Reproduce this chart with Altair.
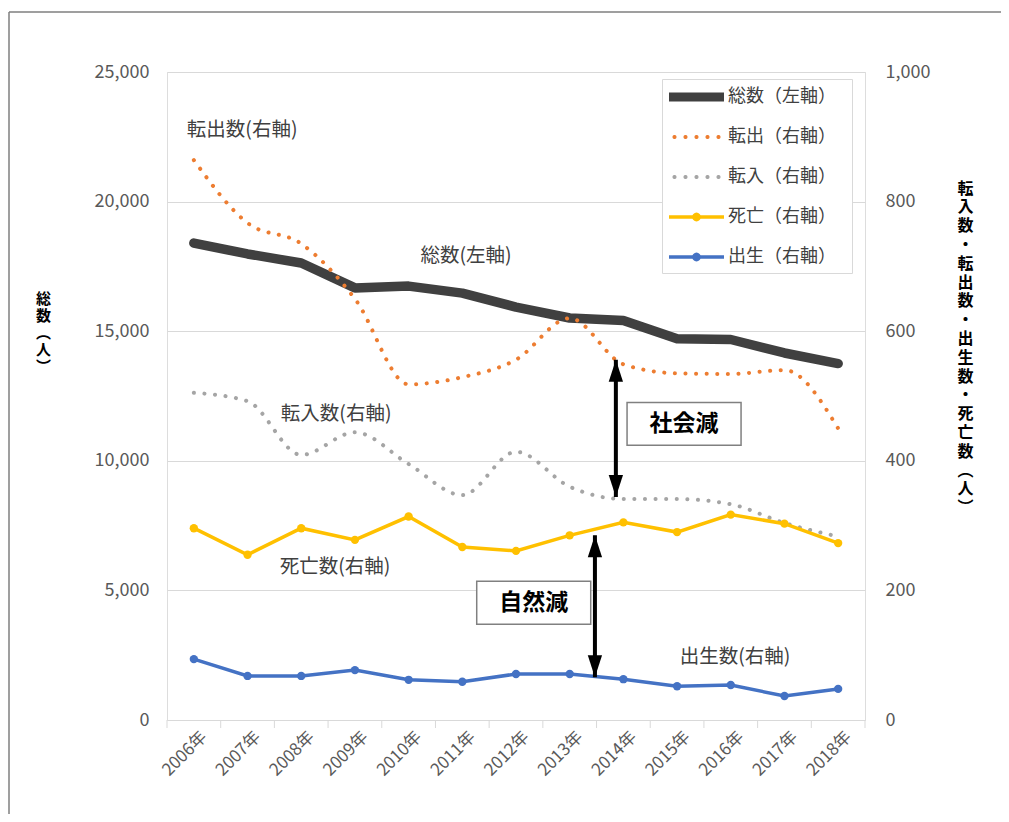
import math
import altair as alt
import pandas as pd

# ---------------- data ----------------
years = list(range(2006, 2019))
total = [18400, 17980, 17630, 16670, 16740, 16470, 15930, 15510, 15410, 14710, 14680, 14160, 13750]
outflow = [864, 767, 735, 650, 518, 529, 556, 620, 549, 535, 534, 540, 450]
inflow = [505, 492, 409, 444, 395, 347, 414, 360, 341, 341, 333, 304, 283]
deaths = [296, 255, 296, 278, 314, 267, 261, 285, 305, 290, 317, 303, 273]
births = [94, 68, 68, 77, 62, 59, 71, 71, 63, 52, 54, 37, 48]

series_names = ["総数（左軸）", "転出（右軸）", "転入（右軸）", "死亡（右軸）", "出生（右軸）"]
series_colors = ["#404040", "#ED7D31", "#A5A5A5", "#FFC000", "#4472C4"]

label_texts = ["転出数(右軸)", "総数(左軸)", "転入数(右軸)", "死亡数(右軸)", "出生数(右軸)"]
label_years = [2006.9, 2011.07, 2008.65, 2008.63, 2016.08]
label_values = [910, 716, 472, 236, 97]

box_texts = ["社会減", "自然減"]
box_years = [2015.13, 2012.33]
box_values = [457, 181]

arrow_years = [2013.86, 2013.47]
arrow_top = [556, 285]
arrow_bottom = [344, 66]

left_ticks = [0, 5000, 10000, 15000, 20000, 25000]
right_ticks = [0, 200, 400, 600, 800, 1000]

FONT = "Noto Sans CJK JP"
W, H = 698, 648

# ---------------- helpers (styles) ----------------
def rect(x0, x1, y0, y1):
    return f"M{x0},{y0}H{x1}V{y1}H{x0}Z"

def circ(cx, cy, r, n=16):
    pts = []
    for i in range(n):
        t = 2 * math.pi * i / n
        pts.append(f"{cx + r * math.cos(t):.3f},{cy + r * math.sin(t):.3f}")
    return "M" + "L".join(pts) + "Z"

dots = "".join(circ(cx, 0, 0.19, 10) for cx in [-0.5, 0.5, 1.5, 2.5, 3.5])
legend_paths = [
    rect(-1, 4, -0.4, 0.4),
    dots,
    dots,
    rect(-1, 4, -0.16, 0.16) + circ(1.5, 0, 0.4),
    rect(-1, 4, -0.16, 0.16) + circ(1.5, 0, 0.4),
]

UP_HEAD = "M0,-1L0.65,1L-0.65,1Z"
DOWN_HEAD = "M0,1L0.65,-1L-0.65,-1Z"
BOX = "M-1,-0.377H1V0.377H-1Z"

df = pd.DataFrame({"year": years, "total": total, "outflow": outflow,
                   "inflow": inflow, "deaths": deaths, "births": births})
labels_df = pd.DataFrame({"year": label_years, "v": label_values, "t": label_texts})
boxes_df = pd.DataFrame({"year": box_years, "v": box_values, "t": box_texts})
arrows_df = pd.DataFrame({"year": arrow_years, "top": arrow_top, "bottom": arrow_bottom})
bounds_df = pd.DataFrame({"b": [y - 0.5 for y in years] + [years[-1] + 0.5]})
legend_df = pd.DataFrame({"series": series_names})
frame_df = pd.DataFrame({"k": [0]})

x_axis = alt.Axis(values=years, labelExpr="datum.value + '年'", labelAngle=-45,
                  labelAlign="right", labelBaseline="middle", labelPadding=14,
                  labelOffset=10, labelFontSize=17, labelColor="#595959", labelFont=FONT,
                  labelOverlap=False, ticks=False, domain=False, grid=False, title=None)
x_scale = alt.Scale(domain=[2005.5, 2018.5], nice=False, zero=False)

def X(field):
    return alt.X(f"{field}:Q", scale=x_scale, axis=x_axis)

right_scale = alt.Scale(domain=[0, 1000], nice=False)
right_axis = alt.Axis(orient="right", values=right_ticks, format=",d", grid=False,
                      ticks=False, domain=False, labelPadding=20, labelFontSize=18,
                      labelColor="#595959", labelFont=FONT,
                      title=list("転入数・転出数・出生数・死亡数︵人︶"), titleAngle=0,
                      titleX=100, titleY=108, titleAlign="center", titleBaseline="top",
                      titleLineHeight=18.8, titleFontSize=16, titleFontWeight="bold",
                      titleColor="#000000", titleFont=FONT)

def YR(field):
    return alt.Y(f"{field}:Q", scale=right_scale, axis=right_axis)

left_axis = alt.Axis(orient="left", values=left_ticks, format=",d", grid=True,
                     gridColor="#d9d9d9", ticks=False, domain=False, labelPadding=18,
                     labelFontSize=18, labelColor="#595959", labelFont=FONT,
                     title=list("総数︵人︶"), titleAngle=0, titleX=-124, titleY=219,
                     titleAlign="center", titleBaseline="top", titleLineHeight=17,
                     titleFontSize=15, titleFontWeight="bold", titleColor="#000000",
                     titleFont=FONT)

# ---------------- left layer ----------------
total_line = alt.Chart(df).mark_line(color="#404040", strokeWidth=9.5, strokeCap="round",
                                      strokeJoin="round").encode(
    x=X("year"),
    y=alt.Y("total:Q", scale=alt.Scale(domain=[0, 25000], nice=False), axis=left_axis),
)

# ---------------- right layers ----------------
base = alt.Chart(df)
out_line = base.mark_line(color="#ED7D31", strokeWidth=4, strokeDash=[0.1, 10.5],
                          strokeCap="round", interpolate="monotone").encode(x=X("year"), y=YR("outflow"))
in_line = base.mark_line(color="#A5A5A5", strokeWidth=4, strokeDash=[0.1, 10.5],
                         strokeCap="round", interpolate="monotone").encode(x=X("year"), y=YR("inflow"))
death_line = base.mark_line(color="#FFC000", strokeWidth=3.5).encode(x=X("year"), y=YR("deaths"))
death_pts = base.mark_point(color="#FFC000", filled=True, size=70, opacity=1).encode(x=X("year"), y=YR("deaths"))
birth_line = base.mark_line(color="#4472C4", strokeWidth=3.5).encode(x=X("year"), y=YR("births"))
birth_pts = base.mark_point(color="#4472C4", filled=True, size=70, opacity=1).encode(x=X("year"), y=YR("births"))

ticks = alt.Chart(bounds_df).mark_rule(color="#d9d9d9", strokeWidth=1).encode(
    x=X("b"), y=alt.value(H), y2=alt.value(H + 8))

arrows = alt.Chart(arrows_df)
shaft = arrows.mark_rule(color="black", strokeWidth=4).encode(
    x=X("year"), y=YR("top"), y2="bottom:Q")
head_up = arrows.mark_point(shape=UP_HEAD, size=484, filled=True, color="black",
                            opacity=1, yOffset=11).encode(x=X("year"), y=YR("top"))
head_down = arrows.mark_point(shape=DOWN_HEAD, size=484, filled=True, color="black",
                              opacity=1, yOffset=-11).encode(x=X("year"), y=YR("bottom"))

boxes = alt.Chart(boxes_df).mark_point(shape=BOX, size=114 * 114, filled=True, fill="white",
                                       stroke="#808080", strokeWidth=1.5, opacity=1).encode(
    x=X("year"), y=YR("v"))
box_text = alt.Chart(boxes_df).mark_text(font=FONT, fontSize=23, fontWeight="bold",
                                         color="black").encode(x=X("year"), y=YR("v"), text="t:N")

labels = alt.Chart(labels_df).mark_text(font=FONT, fontSize=19.5, color="#404040").encode(
    x=X("year"), y=YR("v"), text="t:N")

leg = alt.Legend(orient="none", legendX=495, legendY=7, title=None, symbolSize=484,
                 labelOffset=37, rowPadding=20, padding=7, fillColor="white",
                 strokeColor="#d9d9d9", labelFontSize=18, labelColor="#404040",
                 labelFont=FONT, symbolOpacity=1, symbolStrokeWidth=0, labelLimit=300,
                 labelExpr="datum.label + '\u3000\u200b'")
legend_layer = alt.Chart(legend_df).mark_point(filled=True, opacity=0).encode(
    color=alt.Color("series:N", scale=alt.Scale(domain=series_names, range=series_colors), legend=leg),
    shape=alt.Shape("series:N", scale=alt.Scale(domain=series_names, range=legend_paths), legend=leg),
)

frame_left = alt.Chart(frame_df).mark_rule(color="#7f7f7f", strokeWidth=1.5).encode(
    x=alt.value(-158), y=alt.value(-60), y2=alt.value(760))
frame_top = alt.Chart(frame_df).mark_rule(color="#7f7f7f", strokeWidth=1.5).encode(
    x=alt.value(-158), x2=alt.value(845), y=alt.value(-60))

right = alt.layer(ticks, in_line, out_line, death_line, death_pts, birth_line, birth_pts,
                  shaft, head_up, head_down, boxes, box_text, labels, legend_layer,
                  frame_left, frame_top)

chart = alt.layer(total_line, right).resolve_scale(y="independent").properties(
    width=W, height=H,
    padding={"left": 159, "top": 64, "right": 136, "bottom": 94},
    autosize=alt.AutoSizeParams(type="none"),
).configure_view(stroke="#d9d9d9", strokeWidth=1).configure(background="white")

chart.save("out.html", embed_options={"renderer": "svg", "actions": False})
